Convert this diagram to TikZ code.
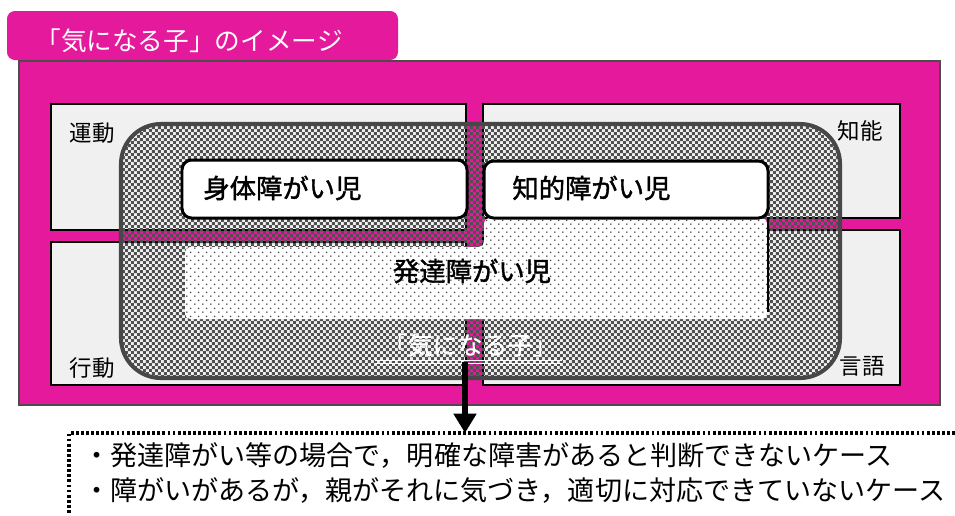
\documentclass[tikz,border=0pt]{standalone}
\usepackage{fontspec}
\setmainfont{Noto Sans CJK JP}
\newfontfamily\jpbold{Noto Sans CJK JP}[FakeBold=1.5]
\newfontfamily\jpsemi{Noto Sans CJK JP}[FakeBold=0.8]
\usetikzlibrary{patterns,arrows.meta}
\pgfdeclarepatternformonly{fchecker}{\pgfqpoint{0pt}{0pt}}{\pgfqpoint{3.4pt}{3.4pt}}{\pgfqpoint{3.4pt}{3.4pt}}{%
 \pgfpathrectangle{\pgfqpoint{0pt}{0pt}}{\pgfqpoint{1.7pt}{1.7pt}}%
 \pgfpathrectangle{\pgfqpoint{1.7pt}{1.7pt}}{\pgfqpoint{1.7pt}{1.7pt}}%
 \pgfusepath{fill}}
\pgfdeclarepatternformonly{fdots}{\pgfqpoint{0pt}{0pt}}{\pgfqpoint{4.4pt}{4.4pt}}{\pgfqpoint{4.4pt}{4.4pt}}{%
 \pgfpathcircle{\pgfqpoint{1.1pt}{1.1pt}}{0.5pt}%
 \pgfpathcircle{\pgfqpoint{3.3pt}{3.3pt}}{0.5pt}%
 \pgfusepath{fill}}
\definecolor{mag}{HTML}{E4199B}
\definecolor{qgray}{HTML}{F0F0F0}
\definecolor{rgray}{HTML}{474747}
\definecolor{cgray}{HTML}{505050}
\begin{document}
\begin{tikzpicture}[x=0.02cm,y=-0.02cm,
  quad/.style={draw=black, line width=0.7pt, fill=qgray},
  lab/.style={font=\fontsize{12.8pt}{14pt}\selectfont, inner sep=0pt},
  wbox/.style={draw=black, line width=1.7pt, fill=white, rounded corners=5.5pt},
  jb/.style={font=\jpbold\fontsize{15pt}{17pt}\selectfont, inner sep=0pt},
  tx/.style={font=\fontsize{15.4pt}{17pt}\selectfont, inner sep=0pt},
  bigr/.style={rounded corners=22.7pt},
  arr/.style={-{Triangle[width=12.5pt,length=11pt]}, line width=3.6pt, black}]
\useasboundingbox (0,0) rectangle (955,515);
% title tab
\fill[mag, rounded corners=4.5pt] (7,11) rectangle (398,60);
\node[text=white, font=\fontsize{14.6pt}{16pt}\selectfont, anchor=west, inner sep=0pt] (title) at (35,41) {「気になる子」のイメージ};
% frame
\draw[draw=gray!60!black, line width=0.6pt, fill=mag] (19,61) rectangle (940,405);
% quadrants
\draw[quad] (51,104) rectangle (466,230);
\draw[quad] (483,104) rectangle (900,218);
\draw[quad] (51,242) rectangle (466,385);
\draw[quad] (483,230) rectangle (900,385);
\node[lab] (undo) at (92,133) {運動};
\node[lab] (chino) at (860,131) {知能};
\node[lab] (kodo) at (92,368) {行動};
\node[lab] (gengo) at (862,366) {言語};
% big rounded region (checker)
\path[bigr, pattern=fchecker, pattern color=cgray] (121,124) rectangle (840,378);
% developmental region (dots)
\path[fill=white, rounded corners=3pt] (185,247) -- (484,247) -- (484,218) -- (767,218) -- (767,319) -- (185,319) -- cycle;
\path[pattern=fdots, pattern color=rgray, rounded corners=3pt] (185,247) -- (484,247) -- (484,218) -- (767,218) -- (767,319) -- (185,319) -- cycle;
\draw[black, line width=0.6pt] (768,218) -- (768,312);
\draw[bigr, rgray, line width=2.3pt] (121,124) rectangle (840,378);
% white boxes
\draw[wbox] (182,160) rectangle (467,218);
\node[jb, anchor=west] (shintai) at (203,188) {身体障がい児};
\draw[wbox] (484,161) rectangle (768,218);
\node[jb, anchor=west] (chiteki) at (512,188) {知的障がい児};
\node[jb] (hattatsu) at (472,271) {発達障がい児};
% kininaru label
\node[text=white, font=\jpsemi\fontsize{14.2pt}{16pt}\selectfont, inner sep=0pt] (kin) at (470,345) {「気になる子」};
\draw[white, line width=0.7pt] (375,360.5) -- (562,360.5);
\draw[white, line width=0.7pt] (375,363.2) -- (562,363.2);
% arrow
\coordinate (astart) at (465,362);
\coordinate (aend) at (465,433);
\draw[arr] (astart) -- (aend);
% cases box
\draw[black, line width=2pt, dash pattern=on 1.6pt off 1.3pt] (955,433) -- (69,433) -- (69,515);
\node[tx, anchor=west] (case1) at (83,455) {・発達障がい等の場合で，明確な障害があると判断できないケース};
\node[tx, anchor=west] (case2) at (83,490) {・障がいがあるが，親がそれに気づき，適切に対応できていないケース};
\end{tikzpicture}
\end{document}
